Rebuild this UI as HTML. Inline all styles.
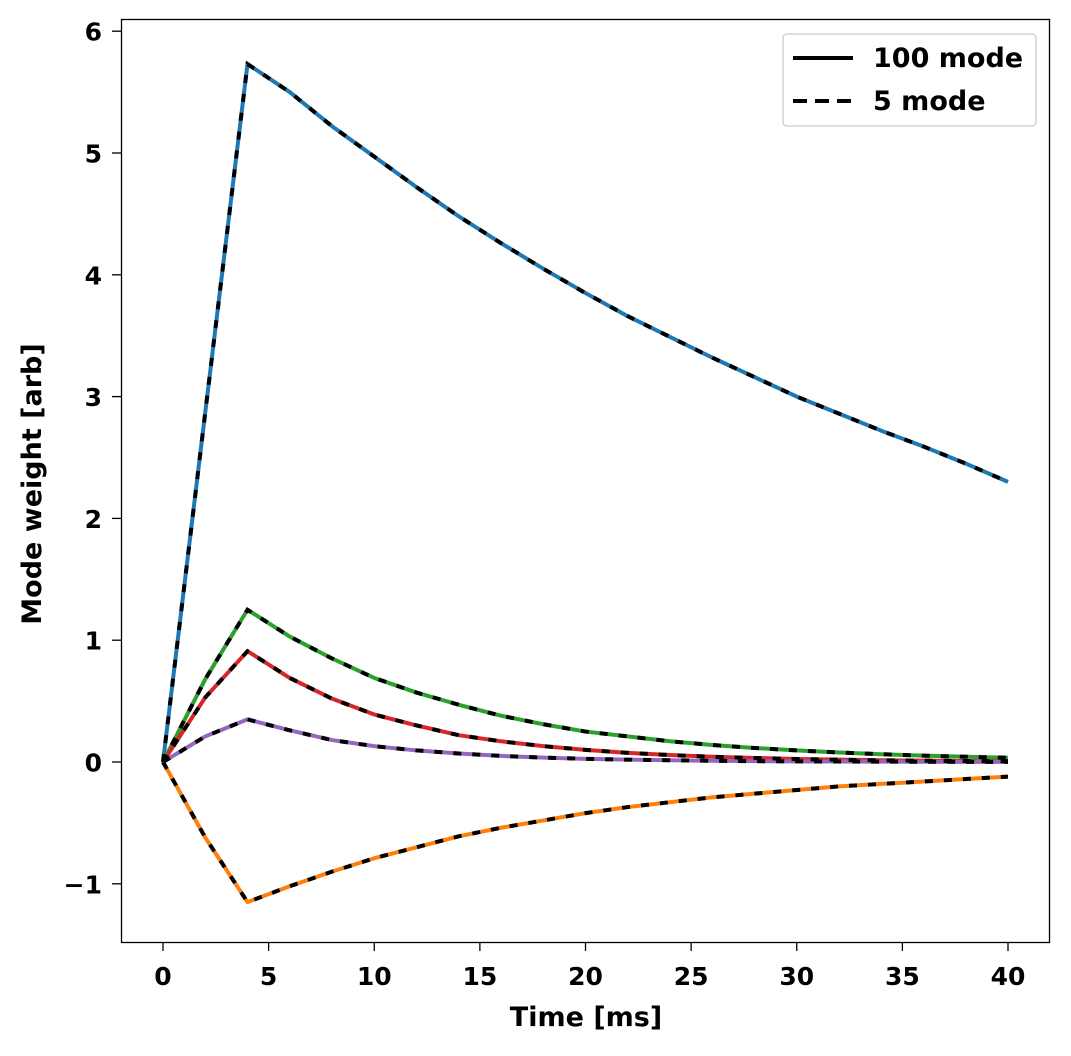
<!DOCTYPE html>
<html><head><meta charset="utf-8"><style>
body{margin:0;background:#fff}
svg text{font-family:"DejaVu Sans","Liberation Sans",sans-serif;font-weight:bold;fill:#000}
</style></head><body>
<svg id="chart" width="1071" height="1051" xmlns="http://www.w3.org/2000/svg">
<rect x="0" y="0" width="1071" height="1051" fill="#fff"/>
<g id="plot"></g>
<g id="axes"></g>
<rect x="121.5" y="19.5" width="928" height="923" fill="none" stroke="#000" stroke-width="1.3"/>
<g>
<rect x="783" y="34" width="253" height="92" rx="4" fill="#fff" fill-opacity="0.8" stroke="#ccc" stroke-width="1.3"/>
<line x1="793" y1="58" x2="853" y2="58" stroke="#000" stroke-width="4"/>
<text x="873" y="67" font-size="27">100 mode</text>
<line x1="793" y1="101" x2="853" y2="101" stroke="#000" stroke-width="4" stroke-dasharray="14 8"/>
<text x="873" y="110" font-size="27">5 mode</text>
</g>
<text x="586" y="1026" font-size="27" text-anchor="middle">Time [ms]</text>
<text transform="translate(41,484) rotate(-90)" font-size="27" text-anchor="middle">Mode weight [arb]</text>
</svg>
<script>
const times=[0,2,4,6,8,10,12,14,16,18,20,22,24,26,28,30,32,34,36,38,40];
const blue=[0,2.87,5.73,5.5,5.22,4.97,4.72,4.48,4.26,4.05,3.85,3.66,3.49,3.32,3.16,3.0,2.86,2.72,2.59,2.45,2.3];
const orange=[0,-0.62,-1.15,-1.02,-0.9,-0.79,-0.7,-0.61,-0.54,-0.48,-0.42,-0.37,-0.33,-0.29,-0.26,-0.23,-0.2,-0.18,-0.16,-0.14,-0.12];
const green=[0,0.68,1.25,1.03,0.85,0.69,0.57,0.47,0.38,0.31,0.25,0.21,0.17,0.14,0.115,0.095,0.078,0.064,0.052,0.043,0.035];
const red=[0,0.53,0.91,0.69,0.52,0.39,0.3,0.22,0.17,0.13,0.1,0.075,0.057,0.043,0.033,0.025,0.019,0.014,0.011,0.008,0.006];
const purple=[0,0.21,0.35,0.26,0.18,0.13,0.095,0.07,0.05,0.036,0.026,0.019,0.014,0.01,0.007,0.005,0.004,0.003,0.002,0.0015,0.001];
const xTicks=[0,5,10,15,20,25,30,35,40];
const yTicks=[-1,0,1,2,3,4,5,6];
const yTickLabels=["\u22121","0","1","2","3","4","5","6"];
const seriesList=[["blue",blue,"#1f77b4"],["orange",orange,"#ff7f0e"],["green",green,"#2ca02c"],["red",red,"#d62728"],["purple",purple,"#9467bd"]];
const NS="http://www.w3.org/2000/svg";
const xs=v=>163+v*21.125;
const ys=v=>762-v*121.8;
const plot=document.getElementById('plot'),axes=document.getElementById('axes');
seriesList.forEach(s=>{
 const pts=times.map((t,i)=>xs(t)+","+ys(s[1][i])).join(" ");
 const a=document.createElementNS(NS,'polyline');
 
 
 a.setAttribute('points',pts);a.setAttribute('fill','none');a.setAttribute('stroke',s[2]);a.setAttribute('stroke-width','4');a.setAttribute('stroke-linejoin','round');
 plot.appendChild(a);
});
seriesList.forEach(s=>{
 const pts=times.map((t,i)=>xs(t)+","+ys(s[1][i])).join(" ");
 const b=document.createElementNS(NS,'polyline');
 
 
 b.setAttribute('points',pts);b.setAttribute('fill','none');b.setAttribute('stroke','#000');b.setAttribute('stroke-width','4');b.setAttribute('stroke-dasharray','8 11');
 plot.appendChild(b);
});
xTicks.forEach(v=>{
 const l=document.createElementNS(NS,'line');
 
 
 l.setAttribute('x1',xs(v));l.setAttribute('x2',xs(v));l.setAttribute('y1',942);l.setAttribute('y2',951);l.setAttribute('stroke','#000');l.setAttribute('stroke-width','1.3');
 axes.appendChild(l);
 const t=document.createElementNS(NS,'text');
 
 
 t.setAttribute('x',xs(v));t.setAttribute('y',985);t.setAttribute('font-size','25');t.setAttribute('text-anchor','middle');t.textContent=v;
 axes.appendChild(t);
});
yTicks.forEach((v,i)=>{
 const l=document.createElementNS(NS,'line');
 
 
 l.setAttribute('x1',112);l.setAttribute('x2',121);l.setAttribute('y1',ys(v));l.setAttribute('y2',ys(v));l.setAttribute('stroke','#000');l.setAttribute('stroke-width','1.3');
 axes.appendChild(l);
 const t=document.createElementNS(NS,'text');
 
 
 t.setAttribute('x',102);t.setAttribute('y',ys(v)+9.5);t.setAttribute('font-size','25');t.setAttribute('text-anchor','end');t.textContent=yTickLabels[i];
 axes.appendChild(t);
});
</script>
</body></html>
